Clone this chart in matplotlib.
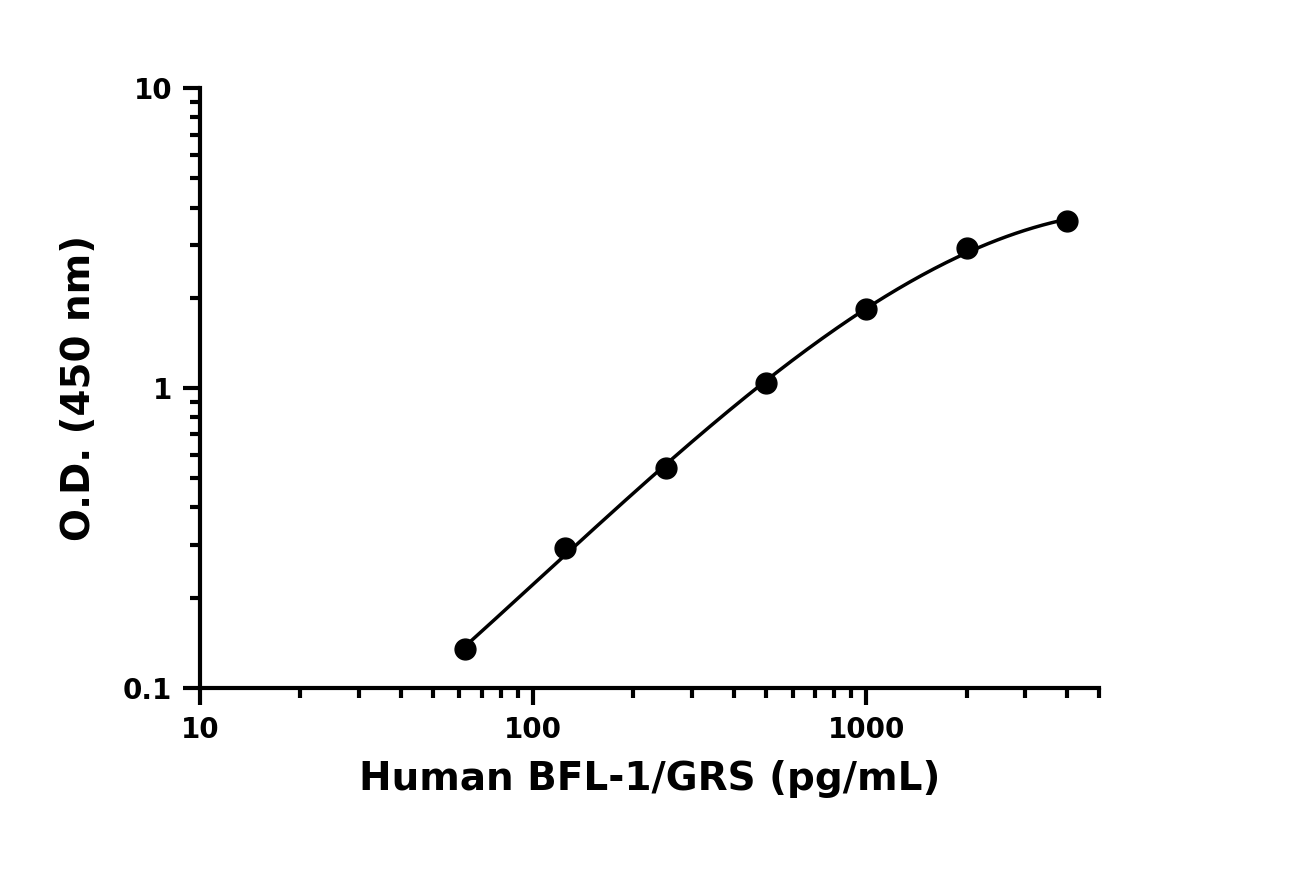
import numpy as np
import matplotlib
matplotlib.use("Agg")
import matplotlib.pyplot as plt
from matplotlib.ticker import LogLocator, FixedLocator, NullFormatter

conc = [62.5, 125, 250, 500, 1000, 2000, 4000]
od = [0.135, 0.293, 0.541, 1.04, 1.83, 2.93, 3.60]
xticks = [10, 100, 1000]
xticklabels = ["10", "100", "1000"]
yticks = [0.1, 1, 10]
yticklabels = ["0.1", "1", "10"]

fig = plt.figure(figsize=(12.98, 8.73), dpi=100)
ax = fig.add_axes([0.154, 0.212, 0.693, 0.687])
ax.set_xscale("log"); ax.set_yscale("log")
ax.set_xlim(10, 5000); ax.set_ylim(0.1, 10)

lx, ly = np.log10(conc), np.log10(od)
p = np.polyfit(lx, ly, 3)
xs = np.linspace(lx[0], lx[-1], 200)
ax.plot(10**xs, 10**np.polyval(p, xs), color="black", lw=2.5)
ax.plot(conc, od, "o", color="black", ms=15)

for s in ["top", "right"]:
    ax.spines[s].set_visible(False)
for s in ["left", "bottom"]:
    ax.spines[s].set_linewidth(3)
    ax.spines[s].set_clip_on(False)

ax.xaxis.set_major_locator(FixedLocator(xticks))
ax.set_xticklabels(xticklabels)
ax.yaxis.set_major_locator(FixedLocator(yticks))
ax.set_yticklabels(yticklabels)
ax.xaxis.set_minor_locator(LogLocator(base=10, subs=np.arange(2, 10)))
ax.yaxis.set_minor_locator(LogLocator(base=10, subs=np.arange(2, 10)))
ax.xaxis.set_minor_formatter(NullFormatter()); ax.yaxis.set_minor_formatter(NullFormatter())
ax.tick_params(which="major", length=12, width=3, labelsize=20, pad=8)
ax.tick_params(which="minor", length=7, width=3)
for t in ax.get_xticklabels() + ax.get_yticklabels():
    t.set_fontweight("bold")

ax.set_xlabel("Human BFL-1/GRS (pg/mL)", fontsize=28, fontweight="bold", labelpad=12)
ax.set_ylabel("O.D. (450 nm)", fontsize=28, fontweight="bold", labelpad=18)

fig.savefig("out.png", dpi=100)
